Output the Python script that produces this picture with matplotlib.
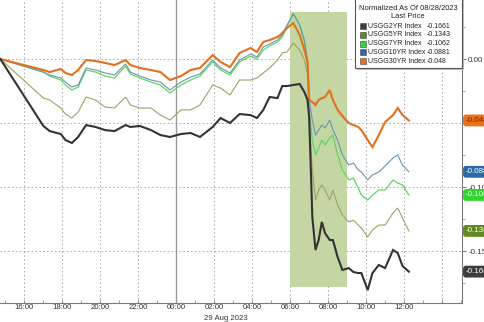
import matplotlib
matplotlib.use("Agg")
import matplotlib.pyplot as plt
import matplotlib.dates as mdates
import matplotlib.ticker as mticker
import pandas as pd
from matplotlib.patches import Rectangle

plt.rcParams['font.family'] = ['Liberation Sans', 'DejaVu Sans']
plt.rcParams['axes.unicode_minus'] = False

# ---------------- data ----------------
times = ["08-28 14:44", "08-28 17:00", "08-28 17:20", "08-28 17:55", "08-28 18:10", "08-28 18:30",
         "08-28 18:50", "08-28 19:15", "08-28 19:45", "08-28 20:15", "08-28 20:45", "08-28 21:20",
         "08-28 21:35", "08-28 22:05", "08-28 22:40", "08-28 23:10", "08-28 23:40", "08-29 00:15",
         "08-29 00:45", "08-29 01:15", "08-29 01:55", "08-29 02:20", "08-29 02:50", "08-29 03:20",
         "08-29 03:55", "08-29 04:15", "08-29 04:35", "08-29 04:55", "08-29 05:20", "08-29 05:35",
         "08-29 05:50", "08-29 06:10", "08-29 06:30", "08-29 06:45", "08-29 06:55", "08-29 07:00",
         "08-29 07:10", "08-29 07:20", "08-29 07:30", "08-29 07:40", "08-29 07:50", "08-29 08:05",
         "08-29 08:15", "08-29 08:30", "08-29 08:45", "08-29 09:05", "08-29 09:20", "08-29 09:35",
         "08-29 09:45", "08-29 10:05", "08-29 10:20", "08-29 10:40", "08-29 11:00", "08-29 11:25",
         "08-29 11:40", "08-29 11:55", "08-29 12:15"]

usgg2yr = [0, -0.0523, -0.0563, -0.0586, -0.0633, -0.0656, -0.0609, -0.0516, -0.0531, -0.0555,
           -0.0563, -0.0516, -0.0531, -0.0523, -0.0555, -0.0594, -0.0609, -0.0586, -0.0578, -0.0609,
           -0.0531, -0.0461, -0.0500, -0.0430, -0.0438, -0.0461, -0.0398, -0.0297, -0.0305, -0.0211,
           -0.0211, -0.0203, -0.0195, -0.0258, -0.0320, -0.0453, -0.1234, -0.1492, -0.1414, -0.1273,
           -0.1359, -0.1414, -0.1414, -0.1547, -0.1648, -0.1633, -0.1664, -0.1672, -0.1672, -0.1805,
           -0.1672, -0.1609, -0.1633, -0.1492, -0.1516, -0.1617, -0.1661]

usgg5yr = [0, -0.0305, -0.0320, -0.0383, -0.0430, -0.0461, -0.0414, -0.0297, -0.0320, -0.0375,
           -0.0383, -0.0297, -0.0359, -0.0383, -0.0383, -0.0438, -0.0477, -0.0398, -0.0398, -0.0359,
           -0.0203, -0.0227, -0.0281, -0.0164, -0.0164, -0.0148, -0.0109, -0.0070, -0.0008, 0.0047,
           0.0055, 0.0125, 0.0070, -0.0008, -0.0125, -0.0477, -0.0867, -0.1102, -0.1023, -0.0984,
           -0.1023, -0.1102, -0.1023, -0.1141, -0.1219, -0.1273, -0.1258, -0.1297, -0.1320, -0.1391,
           -0.1336, -0.1297, -0.1297, -0.1203, -0.1164, -0.1242, -0.1343]

usgg7yr = [0, -0.0102, -0.0133, -0.0164, -0.0203, -0.0242, -0.0219, -0.0086, -0.0102, -0.0133,
           -0.0148, -0.0055, -0.0117, -0.0148, -0.0180, -0.0203, -0.0266, -0.0203, -0.0164, -0.0133,
           -0.0023, -0.0086, -0.0125, -0.0023, 0.0023, 0.0000, 0.0070, 0.0102, 0.0133, 0.0172,
           0.0250, 0.0359, 0.0266, 0.0133, -0.0047, -0.0398, -0.0633, -0.0750, -0.0695, -0.0633,
           -0.0672, -0.0617, -0.0594, -0.0750, -0.0867, -0.0945, -0.0930, -0.1008, -0.1063, -0.1102,
           -0.1063, -0.1023, -0.1023, -0.0945, -0.0969, -0.0984, -0.1062]

usgg10yr = [0, -0.0102, -0.0125, -0.0148, -0.0180, -0.0219, -0.0203, -0.0070, -0.0086, -0.0109,
            -0.0125, -0.0039, -0.0102, -0.0133, -0.0164, -0.0180, -0.0242, -0.0180, -0.0141, -0.0117,
            -0.0008, -0.0070, -0.0109, -0.0008, 0.0039, 0.0016, 0.0094, 0.0117, 0.0148, 0.0188,
            0.0266, 0.0352, 0.0266, 0.0148, -0.0008, -0.0320, -0.0477, -0.0594, -0.0555, -0.0516,
            -0.0539, -0.0477, -0.0555, -0.0633, -0.0750, -0.0828, -0.0813, -0.0867, -0.0883, -0.0945,
            -0.0906, -0.0883, -0.0836, -0.0773, -0.0750, -0.0828, -0.0881]

usgg30yr = [0, -0.0086, -0.0102, -0.0078, -0.0109, -0.0125, -0.0086, -0.0008, -0.0016, -0.0031,
            -0.0047, -0.0008, -0.0047, -0.0070, -0.0086, -0.0102, -0.0164, -0.0133, -0.0086, -0.0070,
            0.0031, -0.0023, -0.0063, 0.0047, 0.0086, 0.0055, 0.0133, 0.0148, 0.0172, 0.0203,
            0.0242, 0.0281, 0.0188, 0.0070, -0.0023, -0.0320, -0.0336, -0.0359, -0.0320, -0.0305,
            -0.0297, -0.0242, -0.0320, -0.0398, -0.0445, -0.0500, -0.0516, -0.0531, -0.0555, -0.0633,
            -0.0688, -0.0594, -0.0492, -0.0438, -0.0383, -0.0438, -0.0480]

names = ["USGG2YR Index", "USGG5YR Index", "USGG7YR Index", "USGG10YR Index", "USGG30YR Index"]
series = [usgg2yr, usgg5yr, usgg7yr, usgg10yr, usgg30yr]
legend_title = ["Normalized As Of 08/28/2023", "Last Price"]
date_label = "29 Aug 2023"

# ---------------- styles ----------------
line_colors = ["#333333", "#9ea363", "#5fd65f", "#6d93ad", "#e2701c"]
line_widths = [1.5, 0.8, 0.9, 0.8, 1.5]
box_colors = ["#3d3d3d", "#5f8a1f", "#2fd62f", "#2f6aa6", "#e9701d"]
box_text = ["white", "white", "#e8ffe8", "white", "#6b2a00"]
draw_order = [1, 2, 3, 4, 0]

W, H = 485, 322
t = pd.to_datetime(["2023-" + s for s in times])

fig = plt.figure(figsize=(W / 100, H / 100), dpi=100)
ax = fig.add_axes([0, (H - 303) / H, 462 / W, 303 / H])

# shaded window
shade_x = pd.to_datetime(["2023-08-29 06:00", "2023-08-29 09:00"])
ax.fill_between(shade_x, -0.178, 0.0367, color="#c3d6a3", lw=0, zorder=1)

for i in draw_order:
    ax.plot(t, series[i], color=line_colors[i], lw=line_widths[i], zorder=3 + draw_order.index(i) * 0.1,
            solid_joinstyle="miter")

ax.set_xlim(pd.Timestamp("2023-08-28 14:43"), pd.Timestamp("2023-08-29 15:03"))
ax.set_ylim(-0.1906, 0.0461)

ax.axvline(pd.Timestamp("2023-08-29 00:00"), color="#9a9a9a", lw=1.0, zorder=2)

# axes styling
for s in ["top", "left"]:
    ax.spines[s].set_visible(False)
ax.spines["right"].set_color("#7a7a7a")
ax.spines["bottom"].set_color("#7a7a7a")
ax.yaxis.tick_right()
ax.yaxis.set_major_locator(mticker.MultipleLocator(0.05))
ax.yaxis.set_minor_locator(mticker.MultipleLocator(0.025))


def yfmt(v, pos=None):
    # the -0.05 label sits under the 30YR last-value box in the reference
    return "" if abs(v + 0.05) < 1e-9 else f"{v:.2f}"


ax.yaxis.set_major_formatter(mticker.FuncFormatter(yfmt))
ax.xaxis.set_major_locator(mdates.HourLocator(byhour=range(0, 24, 2)))
ax.xaxis.set_minor_locator(mdates.HourLocator())


def xfmt(x, pos=None):
    d = mdates.num2date(x)
    return "" if d.hour == 14 else d.strftime("%H:%M")


ax.xaxis.set_major_formatter(mticker.FuncFormatter(xfmt))
ax.tick_params(axis="y", which="major", length=3, width=0.6, color="#555", labelsize=5.8,
               labelcolor="#333", pad=1.5)
ax.tick_params(axis="y", which="minor", length=2, width=0.5, color="#777")
ax.tick_params(axis="x", which="major", length=2, width=0.6, color="#777", labelsize=5.6,
               labelcolor="#333", pad=1.0, direction="in")
ax.tick_params(axis="x", which="minor", length=2, width=0.5, color="#777", direction="in")
ax.grid(True, which="major", ls=(0, (1.5, 2.5)), color="#a8a8a8", lw=0.7, zorder=0)
ax.set_axisbelow(True)

fig.text(226 / W, 1 - 318.5 / H, date_label, ha="center", va="center", fontsize=5.6, color="#333")

# right-hand last-value labels
for i, vals in enumerate(series):
    ax.annotate(f"{vals[-1]:.3f}", xy=(1, vals[-1]), xycoords=("axes fraction", "data"),
                xytext=(2.5, 0), textcoords="offset points", ha="left", va="center",
                fontsize=5.8, color=box_text[i], zorder=6, annotation_clip=False,
                bbox=dict(boxstyle="round,pad=0.3,rounding_size=0.35", fc=box_colors[i], ec="none"))


# legend drawn in figure pixel coordinates
def fx(px):
    return px / W


def fy(py):
    return 1 - py / H


LFS = 5.0
fig.add_artist(Rectangle((fx(357), fy(70)), fx(107) - fx(0), 72 / H, transform=fig.transFigure,
                         fc="#bdbdbd", ec="none", zorder=8))
fig.add_artist(Rectangle((fx(355), fy(68)), fx(107) - fx(0), 72 / H, transform=fig.transFigure,
                         fc="white", ec="#555555", lw=0.8, zorder=9))
fig.text(fx(408), fy(8), legend_title[0], ha="center", va="center", fontsize=5.4, color="#222", zorder=10)
fig.text(fx(408), fy(17), legend_title[1], ha="center", va="center", fontsize=5.4, color="#222", zorder=10)
for k, i in enumerate(range(len(names))):
    yc = 26 + 8.8 * k
    fig.add_artist(Rectangle((fx(360), fy(yc + 3)), 6 / W, 6 / H, transform=fig.transFigure,
                             fc=box_colors[i], ec="#444", lw=0.4, zorder=10))
    fig.text(fx(368), fy(yc), names[i], ha="left", va="center", fontsize=LFS, color="#222", zorder=10)
    fig.text(fx(427), fy(yc), f"{series[i][-1]:g}", ha="left", va="center", fontsize=LFS,
             color="#222", zorder=10)

fig.savefig("out.png", dpi=100)
